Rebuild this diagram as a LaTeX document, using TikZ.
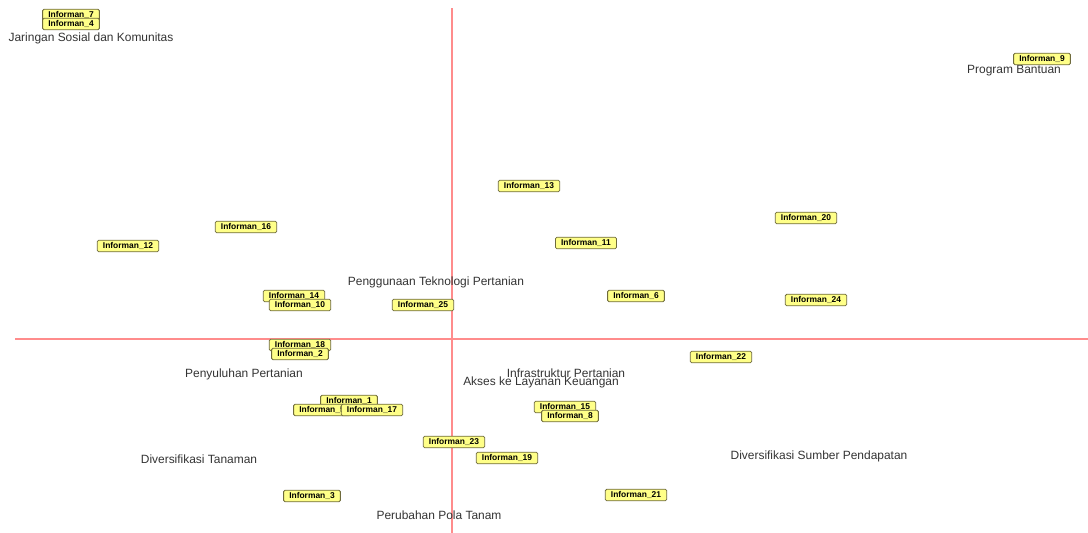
\documentclass[tikz,border=0pt]{standalone}
\usepackage{fontspec}
\setmainfont{Liberation Sans}
\begin{document}
\begin{tikzpicture}[x=0.025cm, y=-0.025cm,
    informan/.style={draw=borderColour, fill=fillColourBox, rounded corners=1pt,
        line width=0.6pt, inner xsep=4pt, inner ysep=0pt, minimum height=0.29cm,
        font=\fontsize{6}{6}\selectfont\bfseries},
    kategori/.style={text=labelColour, inner sep=0pt,
        font=\fontsize{8.5}{10}\selectfont}]
    \definecolor{borderColour}{HTML}{6E6A3C}
    \definecolor{fillColourBox}{HTML}{FFFF88}
    \definecolor{axisColour}{HTML}{FF8C8C}
    \definecolor{labelColour}{HTML}{333333}

    % Fix page size
    \useasboundingbox (0,0) rectangle (1088,533);

    % Draw axes
    \coordinate (top) at (452,8);
    \coordinate (bottom) at (452,533);
    \coordinate (left) at (15,339);
    \coordinate (right) at (1088,339);
    \draw[axisColour, line width=1pt] (top) -- (bottom);
    \draw[axisColour, line width=1pt] (left) -- (right);

    % Categories
    \node[kategori] (jaringan) at (91,38) {Jaringan Sosial dan Komunitas};
    \node[kategori] (bantuan) at (1014,71) {Program Bantuan};
    \node[kategori] (teknologi) at (436,282) {Penggunaan Teknologi Pertanian};
    \node[kategori] (penyuluhan) at (244,374) {Penyuluhan Pertanian};
    \node[kategori] (infrastruktur) at (566,373) {Infrastruktur Pertanian};
    \node[kategori] (akses) at (541,382) {Akses ke Layanan Keuangan};
    \node[kategori] (tanaman) at (199,459) {Diversifikasi Tanaman};
    \node[kategori] (pendapatan) at (819,456) {Diversifikasi Sumber Pendapatan};
    \node[kategori] (pola) at (439,515) {Perubahan Pola Tanam};

    % Informants
    \foreach \n/\x/\y in {7/71/15, 4/71/24, 9/1042/59, 13/529/186, 20/806/218,
        16/246/227, 12/128/246, 11/586/243, 14/294/296, 10/300/305, 25/423/305,
        6/636/296, 24/816/300, 18/300/345, 2/300/354, 22/721/357, 1/349/401,
        5/322/410, 17/372/410, 15/565/407, 8/570/416, 23/454/442, 19/507/458,
        21/636/495, 3/312/496}
        \node[informan] (inf\n) at (\x,\y) {Informan\_\n};

\end{tikzpicture}
\end{document}
